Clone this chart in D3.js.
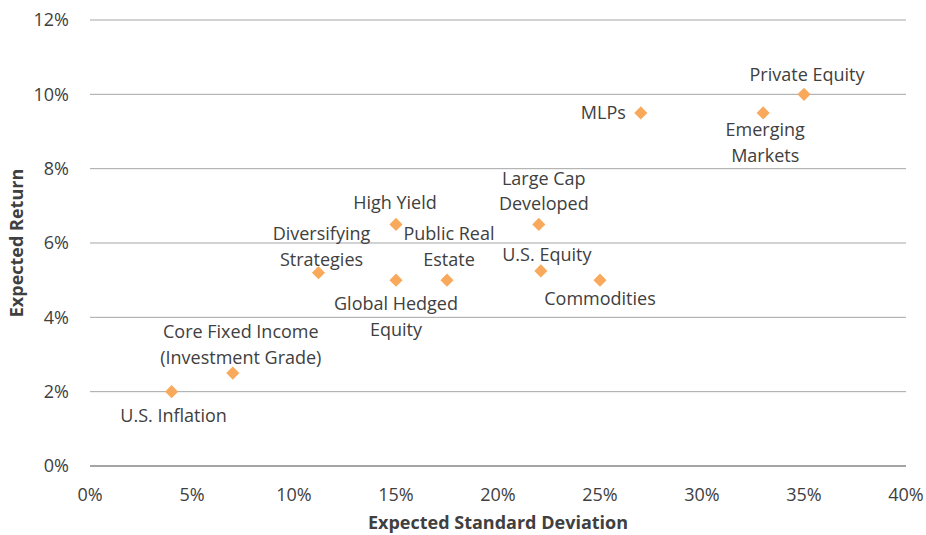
<!DOCTYPE html>
<html><head><meta charset="utf-8">
<script src="https://cdn.jsdelivr.net/npm/d3@7"></script>
<style>body{margin:0;background:#fff}text{font-family:"Open Sans","Noto Sans",sans-serif;fill:#404040}</style>
</head><body><svg id="c" width="926" height="535"></svg>
<script>
const assets = ["U.S. Inflation","Core Fixed Income (Investment Grade)","Diversifying Strategies","High Yield","Global Hedged Equity","Public Real Estate","Large Cap Developed","U.S. Equity","Commodities","MLPs","Emerging Markets","Private Equity"];
const stdDev = [4,7,11.2,15,15,17.5,22,22.1,25,27,33,35];
const expReturn = [2,2.5,5.2,6.5,5,5,6.5,5.25,5,9.5,9.5,10];
const labelLines = [["U.S. Inflation"],["Core Fixed Income","(Investment Grade)"],["Diversifying","Strategies"],["High Yield"],["Global Hedged","Equity"],["Public Real","Estate"],["Large Cap","Developed"],["U.S. Equity"],["Commodities"],["MLPs"],["Emerging","Markets"],["Private Equity"]];
const xTicks = [0,5,10,15,20,25,30,35,40];
const yTicks = [0,2,4,6,8,10,12];

// label layout: [dx, dy of first line center, anchor]
const layout = [[2,24,"middle"],[8,-41,"middle"],[3,-39,"middle"],[-1,-22,"middle"],[0,24,"middle"],[2,-46,"middle"],[5,-46,"middle"],[6,-16,"middle"],[0,19,"middle"],[-15,0,"end"],[2,17,"middle"],[3,-20,"middle"]];

const FS = "18px";
const svg = d3.select("#c");
const x = d3.scaleLinear().domain([0,40]).range([90,906]);
const y = d3.scaleLinear().domain([0,12]).range([466,20]);

svg.append("g").selectAll("line").data(yTicks).join("line")
  .attr("x1",x(0)).attr("x2",x(40)).attr("y1",d=>y(d)).attr("y2",d=>y(d))
  .attr("stroke",d=>d===0?"#868686":"#a6a6a6").attr("stroke-width",d=>d===0?1.5:1);

svg.append("g").selectAll("text").data(yTicks).join("text")
  .attr("x",69).attr("y",d=>y(d)).attr("dy","0.35em").attr("text-anchor","end")
  .style("font-size",FS).text(d=>d+"%");
svg.append("g").selectAll("text").data(xTicks).join("text")
  .attr("x",d=>x(d)).attr("y",495).attr("dy","0.35em").attr("text-anchor","middle")
  .style("font-size",FS).text(d=>d+"%");

svg.append("text").attr("transform","translate(17,243) rotate(-90)").attr("dy","0.35em")
  .attr("text-anchor","middle").style("font-size",FS).style("font-weight","bold").text("Expected Return");
svg.append("text").attr("x",498).attr("y",523).attr("dy","0.35em")
  .attr("text-anchor","middle").style("font-size",FS).style("font-weight","bold").text("Expected Standard Deviation");

const pts = assets.map((a,i)=>({a,sx:stdDev[i],ry:expReturn[i],lines:labelLines[i],l:layout[i]}));
svg.append("g").selectAll("path").data(pts).join("path")
  .attr("d",d3.symbol(d3.symbolSquare,86)).attr("transform",d=>`translate(${x(d.sx)},${y(d.ry)}) rotate(45)`)
  .attr("fill","#F9A95B");

const lg = svg.append("g").selectAll("text").data(pts).join("text")
  .attr("text-anchor",d=>d.l[2]).style("font-size",FS);
lg.each(function(d){
  const t=d3.select(this);
  d.lines.forEach((ln,k)=>{
    t.append("tspan").attr("x",x(d.sx)+d.l[0]).attr("y",y(d.ry)+d.l[1]+k*25.5).attr("dy","0.35em").text(ln);
  });
});
</script></body></html>
